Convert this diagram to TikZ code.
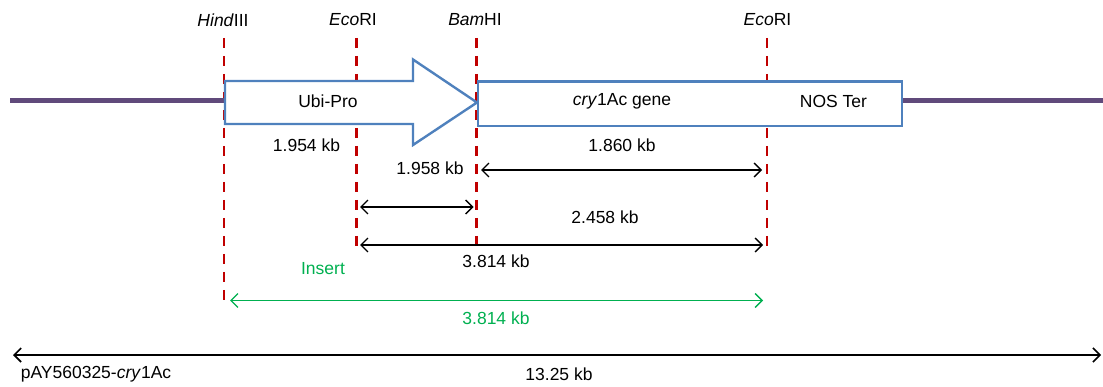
\documentclass[tikz,border=0pt]{standalone}
\usepackage{fontspec}
\setmainfont{Liberation Sans}
\usetikzlibrary{arrows.meta}
\definecolor{cutred}{HTML}{C00000}
\definecolor{boxblue}{HTML}{4F81BD}
\definecolor{vecpurple}{HTML}{604A7B}
\definecolor{insgreen}{HTML}{00B050}
\tikzset{
  lbl/.style={font=\fontsize{17.5}{20}\selectfont, inner sep=0pt, anchor=center},
  cutline/.style={cutred, line width=2.7pt, dash pattern=on 10.5pt off 7.5pt},
  part/.style={draw=boxblue, line width=2.4pt, fill=white},
  backbone/.style={vecpurple, line width=5pt},
  dim/.style={line width=1.3pt, {Straight Barb[length=7pt,width=14pt]}-{Straight Barb[length=7pt,width=14pt]}},
}
\begin{document}
\begin{tikzpicture}[x=1pt,y=-1pt]
\useasboundingbox (0,0) rectangle (1103,387);
% cut sites
\coordinate (hT) at (224,38);  \coordinate (hB) at (224,300);
\coordinate (e1T) at (356.5,38); \coordinate (e1B) at (356.5,246);
\coordinate (bT) at (476.5,38); \coordinate (bB) at (476.5,246);
\coordinate (e2T) at (767,38); \coordinate (e2B) at (767,248);
\draw[cutline] (hT) -- (hB);
\draw[cutline] (e1T) -- (e1B);
\draw[cutline] (bT) -- (bB);
\draw[cutline] (e2T) -- (e2B);
\node[lbl] (lh) at (223,20) {\textit{Hind}III};
\node[lbl] (le1) at (353,20) {\textit{Eco}RI};
\node[lbl] (lb) at (475,20) {\textit{Bam}HI};
\node[lbl] (le2) at (767.5,20) {\textit{Eco}RI};
% backbone
\coordinate (pL1) at (10,101); \coordinate (pL2) at (226,101);
\coordinate (pR1) at (901,101); \coordinate (pR2) at (1103,101);
\draw[backbone] (pL1) -- (pL2);
\draw[backbone] (pR1) -- (pR2);
% Ubi-Pro arrow
\draw[part, line join=miter] (225,81) -- (413,81) -- (413,59.5) -- (477,102.5) -- (413,145) -- (413,124) -- (225,124) -- cycle;
% cry box
\draw[part] (478,81.5) rectangle (902,126);
\node[lbl] (ubi) at (328,101) {Ubi-Pro};
\node[lbl] (cry) at (622,101) {\textit{cry}1Ac gene};
\node[lbl] (nos) at (833.5,101) {NOS Ter};
% dimension labels
\node[lbl] (d1) at (306.5,145) {1.954 kb};
\node[lbl] (d2) at (430,168) {1.958 kb};
\node[lbl] (d3) at (622,145) {1.860 kb};
\coordinate (a3L) at (481,170); \coordinate (a3R) at (762,170);
\draw[dim] (a3L) -- (a3R);
\coordinate (a4L) at (360,207); \coordinate (a4R) at (473.5,207);
\draw[dim] (a4L) -- (a4R);
\node[lbl] (d4) at (605,217) {2.458 kb};
\coordinate (a5L) at (360,245); \coordinate (a5R) at (763,245);
\draw[dim] (a5L) -- (a5R);
\node[lbl] (d5) at (496,261) {3.814 kb};
\node[lbl, text=insgreen] (ins) at (323,269) {Insert};
\coordinate (a6L) at (230,300.5); \coordinate (a6R) at (763,300.5);
\draw[dim, insgreen] (a6L) -- (a6R);
\node[lbl, text=insgreen] (d6) at (496,318) {3.814 kb};
% total
\coordinate (a7L) at (13,355); \coordinate (a7R) at (1101,355);
\draw[dim, line width=1.6pt] (a7L) -- (a7R);
\node[lbl] (vec) at (96,374.5) {pAY560325-\textit{cry}1Ac};
\node[lbl] (tot) at (559,374.5) {13.25 kb};
\end{tikzpicture}
\end{document}
